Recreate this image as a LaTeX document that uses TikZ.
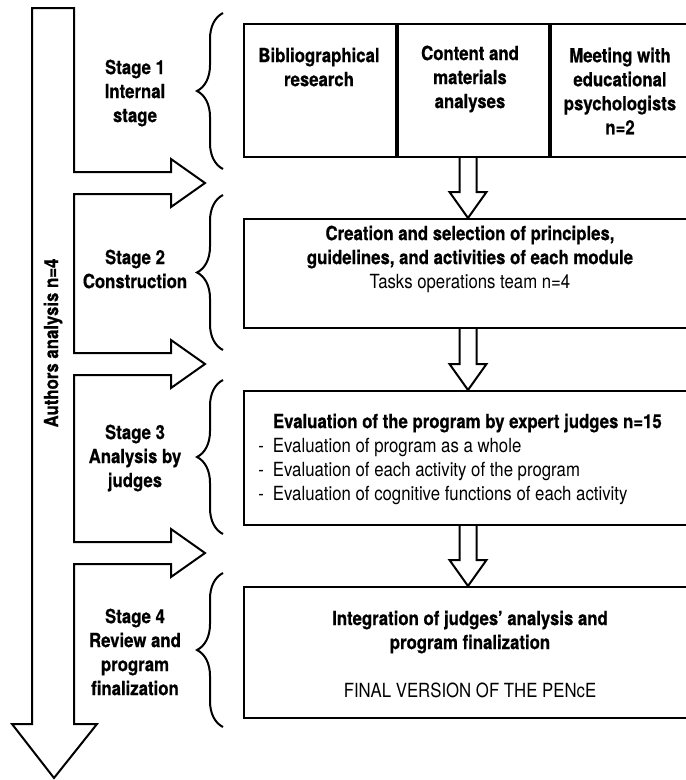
\documentclass[tikz,border=0pt]{standalone}
\usepackage{fontspec}
\setmainfont{TeX Gyre Heros}[FakeStretch=0.86, BoldFeatures={FakeBold=0.6}]
\usetikzlibrary{positioning,calc,decorations.pathreplacing}
\newcommand{\figfont}{\fontsize{19.5}{24}\selectfont}
\tikzset{
  cell/.style={draw, anchor=north west, inner sep=0pt},
  stagetext/.style={font=\figfont\bfseries, align=center, inner sep=0pt},
  boxtext/.style={font=\figfont, align=center, inner sep=0pt},
  stagebrace/.style={decorate, decoration={brace, amplitude=26pt}},
}
\begin{document}
\begin{tikzpicture}[x=1pt, y=-1pt, line width=2pt]
\useasboundingbox (0,0) rectangle (686,780);

\draw (32,8) -- (74,8)
  \foreach \y in {183,364,553} {
    -- (74,\y-11) -- (171,\y-11) -- (171,\y-24) -- (205,\y) -- (171,\y+24) -- (171,\y+11) -- (74,\y+11)}
  -- (74,724) -- (97,724) -- (54,778) -- (12,724) -- (32,724) -- cycle;
\node[rotate=90, font=\figfont\bfseries] (authors) at (53,343) {Authors analysis n=4};

\node[stagetext] (s1) at (135,93) {Stage 1\\Internal\\stage};
\node[stagetext] (s2) at (135,269) {Stage 2\\Construction};
\node[stagetext] (s3) at (135,458) {Stage 3\\Analysis by\\judges};
\node[stagetext] (s4) at (135,652) {Stage 4\\Review and\\program\\finalization};

\draw[stagebrace] (223,169) -- (223,13);
\draw[stagebrace] (223,350) -- (223,195);
\draw[stagebrace] (223,534) -- (223,380);
\draw[stagebrace] (223,727) -- (223,573);

\node[cell, minimum width=152pt, minimum height=133pt] (c1) at (243,23) {};
\node[cell, minimum width=151pt, minimum height=133pt] (c2) at (c1.north east) {};
\node[cell, minimum width=145pt, minimum height=133pt] (c3) at (c2.north east) {};
\node[cell, minimum width=448pt, minimum height=109pt] (b2) at (243,218) {};
\node[cell, minimum width=448pt, minimum height=134pt] (b3) at (243,390) {};
\node[cell, minimum width=448pt, minimum height=131pt] (b4) at (243,586) {};

\node[stagetext] (t1) at (319,67) {Bibliographical\\research};
\node[stagetext] (t2) at (470,79) {Content and\\materials\\analyses};
\node[stagetext] (t3) at (620,91) {Meeting with\\educational\\psychologists\\n=2};
\node[boxtext] (t4) at (470,259) {\textbf{Creation and selection of principles,}\\
  \textbf{guidelines, and activities of each module}\\Tasks operations team n=4};
\node[boxtext, align=left, anchor=west] (t5) at (272,459) {\textbf{Evaluation of the program by expert judges n=15}\\
  \llap{-\hspace{9pt}}Evaluation of program as a whole\\
  \llap{-\hspace{9pt}}Evaluation of each activity of the program\\
  \llap{-\hspace{9pt}}Evaluation of cognitive functions of each activity};
\node[boxtext] (t6) at (470,654) {\textbf{Integration of judges’ analysis and}\\
  \textbf{program finalization}\\[24pt]FINAL VERSION OF THE PENcE};

\foreach \src/\dst in {c2/b2, b2/b3, b3/b4}
  \draw ($(\src.south -| \dst.north)+(-8.5,0)$) |- ($(\dst.north)+(-18.5,-26)$) -- (\dst.north)
    -- ($(\dst.north)+(18.5,-26)$) -| ($(\src.south -| \dst.north)+(8.5,0)$);
\end{tikzpicture}
\end{document}
